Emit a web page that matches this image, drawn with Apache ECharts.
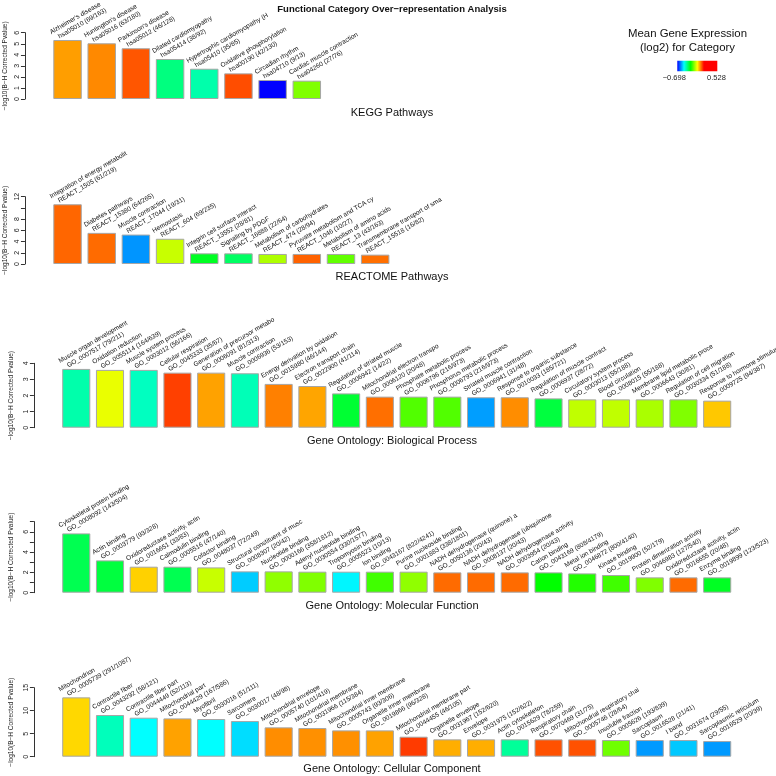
<!DOCTYPE html>
<html><head><meta charset="utf-8">
<script src="https://cdn.jsdelivr.net/npm/echarts@6/dist/echarts.min.js"></script>
<style>html,body{margin:0;padding:0;background:#fff}#c{width:776px;height:776px}</style>
</head><body><div id="c"></div>
<script>
// ---------- DATA ----------
const mainTitle = 'Functional Category Over−representation Analysis';
const yAxisTitle = '−log10(B−H Corrected Pvalue)';
const legendTitle = ['Mean Gene Expression', '(log2) for Category'];
const exprMin = -0.698, exprMax = 0.528;
const exprMinLabel = '−0.698', exprMaxLabel = '0.528';

const keggTitle = 'KEGG Pathways';
const keggNames = ["Alzheimer's disease","Huntington's disease","Parkinson's disease","Dilated cardiomyopathy","Hypertrophic cardiomyopathy (H","Oxidative phosphorylation","Circadian rhythm","Cardiac muscle contraction"];
const keggIds = ["hsa05010 (69/163)","hsa05016 (63/180)","hsa05012 (46/128)","hsa05414 (38/92)","hsa05410 (35/85)","hsa00190 (42/130)","hsa04710 (9/13)","hsa04260 (27/76)"];
const keggVals = [5.34,5.04,4.59,3.62,2.74,2.32,1.72,1.66];
const keggExpr = [-0.007,0.010,0.051,-0.391,-0.426,0.058,-0.698,-0.187];
const keggTicks = [0,1,2,3,4,5,6];

const reactTitle = 'REACTOME Pathways';
const reactNames = ["Integration of energy metabolit","Diabetes pathways","Muscle contraction","Hemostasis","Integrin cell surface interact","Signaling by PDGF","Metabolism of carbohydrates","Pyruvate metabolism and TCA cy","Metabolism of amino acids","Transmembrane transport of sma"];
const reactIds = ["REACT_1505 (61/219)","REACT_15380 (64/265)","REACT_17044 (19/31)","REACT_604 (69/235)","REACT_13552 (28/81)","REACT_16888 (22/64)","REACT_474 (28/94)","REACT_1046 (10/27)","REACT_13 (43/163)","REACT_15518 (16/82)"];
const reactVals = [10.65,5.55,5.25,4.50,1.90,1.90,1.79,1.79,1.79,1.67];
const reactExpr = [0.038,0.034,-0.579,-0.129,-0.317,-0.368,-0.150,0.041,-0.211,0.031];
const reactTicks = [0,2,4,6,8,12];

const bpTitle = 'Gene Ontology: Biological Process';
const bpNames = ["Muscle organ development","Oxidation reduction","Muscle system process","Cellular respiration","Generation of precursor metabo","Muscle contraction","Energy derivation by oxidation","Electron transport chain","Regulation of striated muscle","Mitochondrial electron transpo","Phosphate metabolic process","Phosphorus metabolic process","Striated muscle contraction","Response to organic substance","Regulation of muscle contract","Circulatory system process","Blood circulation","Membrane lipid metabolic proce","Regulation of cell migration","Response to hormone stimulus"];
const bpIds = ["GO_0007517 (79/211)","GO_0055114 (164/639)","GO_0003012 (56/166)","GO_0045333 (35/67)","GO_0006091 (81/313)","GO_0006936 (53/153)","GO_0015980 (46/144)","GO_0022900 (41/114)","GO_0006942 (14/22)","GO_0006120 (20/48)","GO_0006796 (216/973)","GO_0006793 (216/973)","GO_0006941 (31/48)","GO_0010033 (185/721)","GO_0006937 (28/72)","GO_0003013 (55/188)","GO_0008015 (55/188)","GO_0006643 (30/81)","GO_0030334 (51/188)","GO_0009725 (94/387)"];
const bpVals = [3.65,3.59,3.59,3.42,3.42,3.38,2.72,2.59,2.13,1.93,1.93,1.93,1.89,1.89,1.82,1.76,1.76,1.76,1.76,1.68];
const bpExpr = [-0.426,-0.102,-0.443,0.068,-0.010,-0.436,0.017,-0.013,-0.330,0.031,-0.225,-0.225,-0.572,0.007,-0.340,-0.136,-0.136,-0.153,-0.187,-0.041];
const bpTicks = [0,1,2,3,4];

const mfTitle = 'Gene Ontology: Molecular Function';
const mfNames = ["Cytoskeletal protein binding","Actin binding","Oxidoreductase activity, actin","Calmodulin binding","Cofactor binding","Structural constituent of musc","Nucleotide binding","Adenyl nucleotide binding","Tropomyosin binding","Ion binding","Purine nucleoside binding","NADH dehydrogenase (quinone) a","NADH dehydrogenase (ubiquinone","NADH dehydrogenase activity","Cation binding","Metal ion binding","Kinase binding","Protein dimerization activity","Oxidoreductase activity, actin","Enzyme binding"];
const mfIds = ["GO_0008092 (143/504)","GO_0003779 (93/328)","GO_0016651 (33/83)","GO_0005516 (47/140)","GO_0048037 (72/249)","GO_0008307 (20/42)","GO_0000166 (358/1812)","GO_0030554 (330/1577)","GO_0005523 (10/13)","GO_0043167 (822/4241)","GO_0001883 (338/1801)","GO_0050136 (20/43)","GO_0008137 (20/43)","GO_0003954 (20/43)","GO_0043169 (808/4179)","GO_0046872 (800/4140)","GO_0019900 (52/179)","GO_0046983 (127/540)","GO_0016655 (20/48)","GO_0019899 (123/523)"];
const mfVals = [5.84,3.18,2.56,2.56,2.49,2.10,2.10,2.07,2.07,2.07,2.07,2.00,2.00,2.00,2.00,1.90,1.74,1.51,1.51,1.51];
const mfExpr = [-0.354,-0.340,-0.048,-0.354,-0.129,-0.535,-0.174,-0.187,-0.501,-0.238,-0.174,0.034,0.034,0.034,-0.289,-0.262,-0.238,-0.187,0.034,-0.317];
const mfTicks = [0,2,4,6];

const ccTitle = 'Gene Ontology: Cellular Component';
const ccNames = ["Mitochondrion","Contractile fiber","Contractile fiber part","Mitochondrial part","Myofibril","Sarcomere","Mitochondrial envelope","Mitochondrial membrane","Mitochondrial inner membrane","Organelle inner membrane","Mitochondrial membrane part","Organelle envelope","Envelope","Actin cytoskeleton","Respiratory chain","Mitochondrial respiratory chai","Insoluble fraction","Sarcoplasm","I band","Sarcoplasmic reticulum"];
const ccIds = ["GO_0005739 (291/1087)","GO_0043292 (58/121)","GO_0044449 (52/113)","GO_0044429 (167/586)","GO_0030016 (51/111)","GO_0030017 (48/98)","GO_0005740 (101/419)","GO_0031966 (115/384)","GO_0005743 (93/306)","GO_0019866 (96/328)","GO_0044455 (46/105)","GO_0031967 (152/620)","GO_0031975 (152/622)","GO_0015629 (78/259)","GO_0070469 (31/75)","GO_0005746 (28/64)","GO_0005626 (193/839)","GO_0016528 (21/41)","GO_0031674 (29/55)","GO_0016529 (20/39)"];
const ccVals = [12.9,9.06,8.48,8.33,8.19,7.75,6.38,6.23,5.72,5.72,4.35,3.77,3.77,3.77,3.77,3.77,3.62,3.62,3.62,3.40];
const ccExpr = [-0.054,-0.439,-0.494,-0.010,-0.494,-0.521,0.007,0.004,0.004,-0.010,0.072,-0.020,-0.020,-0.412,0.055,0.055,-0.201,-0.575,-0.538,-0.575];
const ccTicks = [0,5,10,15];

// ---------- LAYOUT / STYLE ----------
const FONT = 'Liberation Sans, Arial, Helvetica, sans-serif';
const SLOT = 34.18, LEFT = 50.45, CX = 392;
const rampColors = ['#0000FF','#0080FF','#00FFFF','#00FF80','#00FF00','#80FF00','#FFFF00','#FF8000','#FF0000','#FF0000','#FF0000','#FF0000','#FF0000'];

const panels = [
  {title:keggTitle, names:keggNames, ids:keggIds, vals:keggVals, expr:keggExpr, ticks:keggTicks, max:6, interval:1, top:32.7, height:66.3, titleY:113},
  {title:reactTitle, names:reactNames, ids:reactIds, vals:reactVals, expr:reactExpr, ticks:reactTicks, max:12, interval:2, top:196.7, height:67.3, titleY:276.5},
  {title:bpTitle, names:bpNames, ids:bpIds, vals:bpVals, expr:bpExpr, ticks:bpTicks, max:4, interval:1, top:363.3, height:64.4, titleY:440.5},
  {title:mfTitle, names:mfNames, ids:mfIds, vals:mfVals, expr:mfExpr, ticks:mfTicks, max:7, interval:1, top:521.6, height:71.1, titleY:605.5},
  {title:ccTitle, names:ccNames, ids:ccIds, vals:ccVals, expr:ccExpr, ticks:ccTicks, max:15, interval:5, top:687.7, height:69, titleY:768.8}
];

const grid = [], xAxis = [], yAxis = [], series = [], graphic = [];
panels.forEach((p, i) => {
  grid.push({left: LEFT, top: p.top, width: p.names.length * SLOT, height: p.height});
  xAxis.push({gridIndex: i, type: 'category', data: p.names.map((n, j) => j), show: false});
  yAxis.push({
    gridIndex: i, type: 'value', min: 0, max: p.max, interval: p.interval, offset: 25.5,
    axisLine: {show: true, lineStyle: {color: '#333', width: 1}},
    axisTick: {show: true, length: 4, lineStyle: {color: '#333'}},
    axisLabel: {rotate: 90, fontSize: 7, margin: 4, color: '#222', fontFamily: FONT,
      formatter: v => (p.ticks.indexOf(v) >= 0 ? String(v) : '')},
    splitLine: {show: false},
    name: yAxisTitle, nameLocation: 'middle', nameGap: 16,
    nameTextStyle: {fontSize: 6.5, color: '#222', fontFamily: FONT}
  });
  series.push({
    type: 'bar', xAxisIndex: i, yAxisIndex: i, silent: true,
    barCategoryGap: '16.7%',
    data: p.vals.map((v, j) => [j, v, p.expr[j]]),
    itemStyle: {borderColor: '#a6a6a6', borderWidth: 1},
    label: {
      show: true, position: [3, 3], rotate: 30, align: 'left', verticalAlign: 'bottom',
      fontSize: 6.5, lineHeight: 8, color: '#111', fontFamily: FONT,
      formatter: q => '{a|' + p.names[q.dataIndex] + '}\n{b|' + p.ids[q.dataIndex] + '}',
      rich: {a: {fontSize: 6.5, lineHeight: 8, color: '#111', fontFamily: FONT},
             b: {fontSize: 6.5, lineHeight: 8, color: '#111', fontFamily: FONT, padding: [0, 0, 0, 5]}}
    }
  });
  graphic.push({type: 'text', x: CX, y: p.titleY,
    style: {text: p.title, fontSize: 11, fontFamily: FONT, fill: '#111', align: 'center', verticalAlign: 'middle'}});
});

// main title
graphic.push({type: 'text', x: CX, y: 9,
  style: {text: mainTitle, fontSize: 9.5, fontWeight: 'bold', fontFamily: FONT, fill: '#111', align: 'center', verticalAlign: 'middle'}});
// legend
graphic.push({type: 'text', x: 687.5, y: 34,
  style: {text: legendTitle[0], fontSize: 11.4, fontFamily: FONT, fill: '#111', align: 'center', verticalAlign: 'middle'}});
graphic.push({type: 'text', x: 687.5, y: 48,
  style: {text: legendTitle[1], fontSize: 11.4, fontFamily: FONT, fill: '#111', align: 'center', verticalAlign: 'middle'}});
graphic.push({type: 'rect', shape: {x: 677.3, y: 60.7, width: 40, height: 10.6},
  style: {fill: new echarts.graphic.LinearGradient(0, 0, 1, 0,
    rampColors.map((c, k) => ({offset: k / (rampColors.length - 1), color: c})))}});
graphic.push({type: 'text', x: 674.3, y: 78,
  style: {text: exprMinLabel, fontSize: 7.5, fontFamily: FONT, fill: '#222', align: 'center', verticalAlign: 'middle'}});
graphic.push({type: 'text', x: 716.5, y: 78,
  style: {text: exprMaxLabel, fontSize: 7.5, fontFamily: FONT, fill: '#222', align: 'center', verticalAlign: 'middle'}});

const chart = echarts.init(document.getElementById('c'), null, {renderer: 'canvas'});
chart.setOption({
  animation: false,
  backgroundColor: '#ffffff',
  textStyle: {fontFamily: FONT},
  grid, xAxis, yAxis, series, graphic,
  visualMap: {type: 'continuous', show: false, min: exprMin, max: exprMax, dimension: 2,
    seriesIndex: [0, 1, 2, 3, 4], inRange: {color: rampColors}}
});
</script>
</body></html>
